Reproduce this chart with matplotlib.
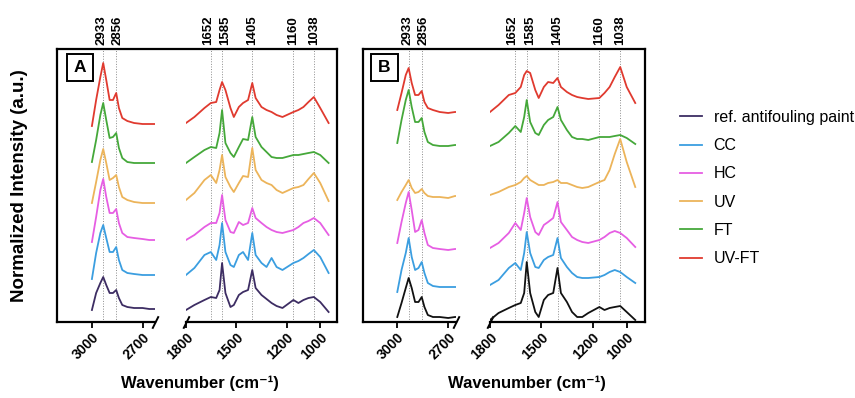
import matplotlib
matplotlib.use('Agg')
import matplotlib.pyplot as plt
from matplotlib.patches import Rectangle
from matplotlib.transforms import offset_copy

plt.rcParams['font.family'] = ['Liberation Sans', 'DejaVu Sans']

# wavenumber grids (cm-1)
high_wn = [3000, 2975, 2950, 2933, 2915, 2895, 2875, 2856, 2840, 2820, 2790, 2750, 2700, 2660, 2630]
low_wn = [1800, 1750, 1690, 1652, 1620, 1600, 1585, 1565, 1535, 1515, 1485, 1460, 1430, 1405,
          1385, 1350, 1320, 1290, 1260, 1225, 1160, 1130, 1100, 1070, 1038, 1000, 950]

labels = ['ref. antifouling paint', 'CC', 'HC', 'UV', 'FT', 'UV-FT']
peaks_high = [2933, 2856]
peaks_low = [1652, 1585, 1405, 1160, 1038]
# small sideways nudge (points) so close peak labels do not touch
label_nudge = {2933: -1.0, 2856: 1.0, 1652: -2.2, 1585: 2.2}

# panel A, stacked intensities (a.u.)
a_high = {
    'ref. antifouling paint': [12, 29, 39, 45, 37, 29, 29, 32, 24, 17, 15, 14, 14, 13, 13],
    'CC': [43, 69, 89, 97, 84, 70, 70, 75, 62, 52, 49, 48, 47, 47, 47],
    'HC': [80, 105, 132, 143, 125, 109, 109, 113, 99, 89, 85, 84, 83, 82, 82],
    'UV': [119, 140, 162, 173, 159, 142, 144, 147, 135, 125, 122, 120, 119, 119, 119],
    'FT': [160, 182, 207, 219, 202, 184, 185, 189, 174, 164, 160, 159, 159, 159, 159],
    'UV-FT': [196, 222, 245, 259, 242, 222, 222, 229, 214, 204, 201, 199, 198, 198, 198],
}
a_low = {
    'ref. antifouling paint': [12, 17, 22, 25, 24, 32, 59, 29, 15, 17, 27, 30, 32, 52,
                               34, 27, 23, 19, 16, 14, 22, 19, 22, 24, 25, 20, 10],
    'CC': [47, 54, 67, 70, 62, 77, 99, 70, 57, 55, 67, 70, 62, 89,
           67, 59, 55, 64, 55, 52, 59, 61, 64, 68, 72, 65, 49],
    'HC': [82, 87, 95, 99, 99, 109, 127, 102, 90, 89, 100, 97, 99, 114,
           104, 99, 95, 92, 90, 89, 92, 95, 99, 101, 104, 99, 87],
    'UV': [122, 129, 142, 147, 139, 152, 167, 145, 135, 130, 139, 146, 145, 174,
           152, 142, 139, 137, 132, 129, 134, 135, 137, 143, 149, 139, 121],
    'FT': [159, 165, 172, 175, 174, 189, 212, 179, 169, 165, 175, 183, 182, 205,
           185, 175, 170, 165, 164, 164, 167, 167, 168, 169, 170, 167, 159],
    'UV-FT': [199, 205, 214, 219, 220, 232, 240, 232, 214, 205, 215, 219, 222, 239,
              224, 215, 212, 210, 207, 205, 210, 212, 215, 220, 225, 214, 199],
}

# panel B, stacked intensities (a.u.)
b_high = {
    'ref. antifouling paint': [5, 19, 34, 44, 34, 20, 20, 25, 15, 7, 5, 5, 4, 5, 5],
    'CC': [30, 52, 69, 84, 65, 52, 54, 60, 49, 39, 36, 35, 35, 35, 35],
    'HC': [79, 100, 119, 130, 112, 90, 92, 102, 89, 77, 74, 73, 72, 73, 73],
    'UV': [122, 130, 137, 142, 134, 129, 130, 133, 129, 126, 125, 125, 124, 126, 126],
    'FT': [179, 202, 222, 232, 215, 200, 200, 204, 190, 180, 177, 176, 176, 177, 177],
    'UV-FT': [212, 229, 247, 254, 239, 227, 227, 231, 220, 214, 212, 210, 209, 210, 210],
}
b_low = {
    'ref. antifouling paint': [2, 9, 14, 17, 19, 29, 60, 29, 10, 5, 22, 27, 29, 54,
                               29, 20, 10, 5, 5, 9, 15, 12, 14, 15, 16, 10, 2],
    'CC': [37, 42, 54, 59, 52, 69, 90, 69, 55, 54, 62, 65, 67, 84,
           64, 55, 49, 45, 44, 44, 45, 47, 50, 52, 50, 45, 39],
    'HC': [74, 79, 89, 99, 92, 109, 124, 105, 90, 87, 97, 100, 104, 120,
           100, 92, 85, 82, 80, 79, 82, 85, 89, 91, 89, 84, 75],
    'UV': [127, 130, 135, 137, 140, 144, 146, 142, 139, 137, 137, 139, 140, 142,
           139, 139, 137, 135, 134, 135, 140, 142, 152, 168, 183, 160, 135],
    'FT': [176, 180, 189, 196, 190, 205, 222, 200, 189, 187, 197, 202, 205, 215,
           202, 192, 185, 183, 183, 182, 185, 185, 185, 186, 187, 184, 178],
    'UV-FT': [210, 217, 227, 229, 235, 247, 251, 249, 232, 224, 235, 240, 239, 244,
              235, 230, 227, 225, 224, 223, 224, 229, 235, 245, 255, 235, 219],
}

colors_a = ['#3d2d63', '#3b9ee0', '#e65ee3', '#ecb45a', '#45a83a', '#e03a2f']
colors_b = ['#111111', '#3b9ee0', '#e65ee3', '#ecb45a', '#45a83a', '#e03a2f']

W, H = 855, 398
fig = plt.figure(figsize=(W / 100, H / 100), dpi=100)

top_px, bot_px = 49, 322


def rect(x0, x1):
    return [x0 / W, 1 - bot_px / H, (x1 - x0) / W, (bot_px - top_px) / H]


def panel(fx0, fx1, lx1, rx0, xlim_l, xlim_r, high, low, colors, letter, box_x):
    frame = fig.add_axes(rect(fx0, fx1))
    frame.set_xticks([])
    frame.set_yticks([])
    frame.spines['bottom'].set_visible(False)
    for s in ['top', 'left', 'right']:
        frame.spines[s].set_linewidth(1.6)

    axl = fig.add_axes(rect(fx0, lx1))
    axr = fig.add_axes(rect(rx0, fx1))
    lines = []
    for ax, wn, data, xl, peaks, ticks in [(axl, high_wn, high, xlim_l, peaks_high, [3000, 2700]),
                                          (axr, low_wn, low, xlim_r, peaks_low, [1800, 1500, 1200, 1000])]:
        ax.patch.set_alpha(0)
        for s in ['top', 'left', 'right']:
            ax.spines[s].set_visible(False)
        ax.spines['bottom'].set_linewidth(1.6)
        ax.set_yticks([])
        ax.set_xlim(*xl)
        ax.set_ylim(0, bot_px - top_px)
        ax.set_xticks(ticks)
        ax.set_xticklabels([str(t) for t in ticks], rotation=45, ha='right',
                           rotation_mode='anchor', fontweight='bold', fontsize=10)
        ax.tick_params(axis='x', direction='out', length=4, width=1.3, pad=2)
        for p in peaks:
            ax.axvline(p, color='#8c8c8c', lw=0.7, ls=':', zorder=1)
            tr = offset_copy(ax.get_xaxis_transform(), fig=fig,
                             x=label_nudge.get(p, 0), units='points')
            ax.text(p, 1.015, str(p), transform=tr, rotation=90,
                    ha='center', va='bottom', fontweight='bold', fontsize=9.5)
        for lab, c in zip(labels, colors):
            ln, = ax.plot(wn, data[lab], color=c, lw=1.3, zorder=3)
            if ax is axl:
                lines.append(ln)

    kw = dict(marker=[(-0.5, -1), (0.5, 1)], markersize=9, linestyle='none',
              color='k', mec='k', mew=1.4, clip_on=False)
    axl.plot([1], [0], transform=axl.transAxes, **kw)
    axr.plot([0], [0], transform=axr.transAxes, **kw)

    fw = fx1 - fx0
    bx = (box_x - fx0) / fw
    bw = 26.7 / fw
    by = 1 - (81 - top_px) / (bot_px - top_px)
    bh = 27 / (bot_px - top_px)
    frame.add_patch(Rectangle((bx, by), bw, bh, transform=frame.transAxes,
                              fill=False, ec='black', lw=1.4))
    frame.text(bx + bw / 2, by + bh / 2, letter, transform=frame.transAxes,
               ha='center', va='center', fontsize=12.5, fontweight='bold')
    return lines


lines_a = panel(57, 337, 155, 186, (3207, 2626), (1800, 900), a_high, a_low, colors_a, 'A', 66.7)
panel(363, 645, 456, 490, (3202, 2654), (1800, 893), b_high, b_low, colors_b, 'B', 371)

fig.text(20 / W, 1 - 186 / H, 'Normalized Intensity (a.u.)', rotation=90,
         ha='center', va='center', fontsize=13.5, fontweight='bold')
fig.text(200 / W, 1 - 383 / H, 'Wavenumber (cm⁻¹)', ha='center', va='center',
         fontsize=12, fontweight='bold')
fig.text(527 / W, 1 - 383 / H, 'Wavenumber (cm⁻¹)', ha='center', va='center',
         fontsize=12, fontweight='bold')

fig.legend(lines_a, labels, loc='center left', bbox_to_anchor=(680 / W, 1 - 188 / H),
           frameon=False, fontsize=11.5, handlelength=1.4, handletextpad=0.7,
           labelspacing=0.83, borderpad=0, borderaxespad=0)

fig.savefig('out.png', dpi=100)
